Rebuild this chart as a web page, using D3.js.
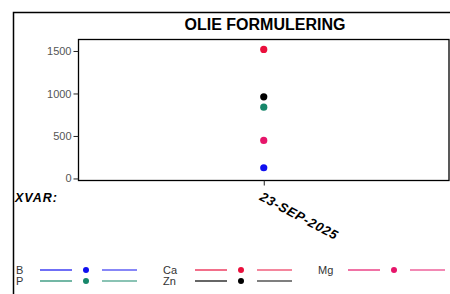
<!DOCTYPE html>
<html>
<head>
<meta charset="utf-8">
<script src="https://cdn.jsdelivr.net/npm/d3@7"></script>
<style>
  body { margin: 0; background: #fff; }
  svg { display: block; font-family: "Liberation Sans", Arial, sans-serif; }
</style>
</head>
<body>
<svg id="chart" width="450" height="294"></svg>
<script>
const categories = ["23-SEP-2025"];
const seriesNames = ["B", "P", "Ca", "Zn", "Mg"];
const seriesColors = ["#1010f0", "#17876a", "#ea0f3c", "#000000", "#e6156a"];
const bValues = [126];
const pValues = [839];
const caValues = [1518];
const znValues = [961];
const mgValues = [447];
const yTicks = [0, 500, 1000, 1500];
const seriesValues = [bValues, pValues, caValues, znValues, mgValues];

const svg = d3.select('#chart');

// outer frame
svg.append('rect')
   .attr('x', 13.5).attr('y', 12.5)
   .attr('width', 460).attr('height', 300)
   .attr('fill', 'none').attr('stroke', '#000').attr('stroke-width', 1.5);

svg.append('text')
   .attr('x', 265).attr('y', 30)
   .attr('text-anchor', 'middle')
   .attr('font-size', '16px').attr('font-weight', 'bold')
   .text('OLIE FORMULERING');

const plot = { left: 78.5, right: 449, top: 39.5, bottom: 180.5 };

const x = d3.scalePoint().domain(categories).range([plot.left, plot.right]).padding(0.5);
const y = d3.scaleLinear().domain([-24, 1635]).range([plot.bottom, plot.top]);

// plot box
svg.append('rect')
   .attr('x', plot.left).attr('y', plot.top)
   .attr('width', plot.right - plot.left).attr('height', plot.bottom - plot.top)
   .attr('fill', 'none').attr('stroke', '#000').attr('stroke-width', 1.3);

const yAxis = svg.append('g')
   .attr('transform', `translate(${plot.left},0)`)
   .call(d3.axisLeft(y).tickValues(yTicks).tickSize(5).tickPadding(2).tickFormat(d3.format('d')));
yAxis.select('.domain').remove();
yAxis.selectAll('text').attr('font-size', '11px').attr('fill', '#555').attr('font-family', '"Liberation Sans", Arial, sans-serif');
yAxis.selectAll('line').attr('stroke', '#222');

const xAxis = svg.append('g')
   .attr('transform', `translate(0,${plot.bottom})`)
   .call(d3.axisBottom(x).tickSize(5).tickFormat(''));
xAxis.select('.domain').remove();
xAxis.selectAll('line').attr('stroke', '#222');

// rotated date labels
svg.append('g').selectAll('text')
   .data(categories)
   .enter()
   .append('text')
   .attr('transform', d => `translate(${x(d) - 5},${plot.bottom + 19}) rotate(28)`)
   .attr('font-size', '13px').attr('font-weight', 'bold').attr('font-style', 'italic')
   .attr('letter-spacing', '0.8px')
   .text(d => d);

svg.append('text')
   .attr('x', 15).attr('y', 202)
   .attr('font-size', '12.5px').attr('font-weight', 'bold').attr('font-style', 'italic')
   .attr('letter-spacing', '1px')
   .text('XVAR:');

// points
seriesValues.forEach((vals, i) => {
  svg.append('g').selectAll('circle')
     .data(vals)
     .enter()
     .append('circle')
     .attr('cx', (d, j) => x(categories[j]))
     .attr('cy', d => y(d))
     .attr('r', 3.6)
     .attr('fill', seriesColors[i]);
});

// legend
const legendLabelX = [16, 163, 318];
const legendLineX = [40, 195, 348];
const legendRowY = [270, 281];
const legend = svg.append('g').selectAll('g')
   .data(seriesNames)
   .enter()
   .append('g')
   .attr('transform', (d, i) => `translate(0,${legendRowY[i % 2]})`);

legend.append('text')
   .attr('x', (d, i) => legendLabelX[Math.floor(i / 2)])
   .attr('y', 4)
   .attr('font-size', '11px').attr('fill', '#333')
   .text(d => d);

[[0, 32], [62, 97]].forEach(seg => {
  legend.append('line')
     .attr('x1', (d, i) => legendLineX[Math.floor(i / 2)] + seg[0])
     .attr('x2', (d, i) => legendLineX[Math.floor(i / 2)] + seg[1])
     .attr('stroke', (d, i) => seriesColors[i])
     .attr('stroke-width', 1.2);
});

legend.append('circle')
   .attr('cx', (d, i) => legendLineX[Math.floor(i / 2)] + 46)
   .attr('r', 3)
   .attr('fill', (d, i) => seriesColors[i]);
</script>
</body>
</html>
